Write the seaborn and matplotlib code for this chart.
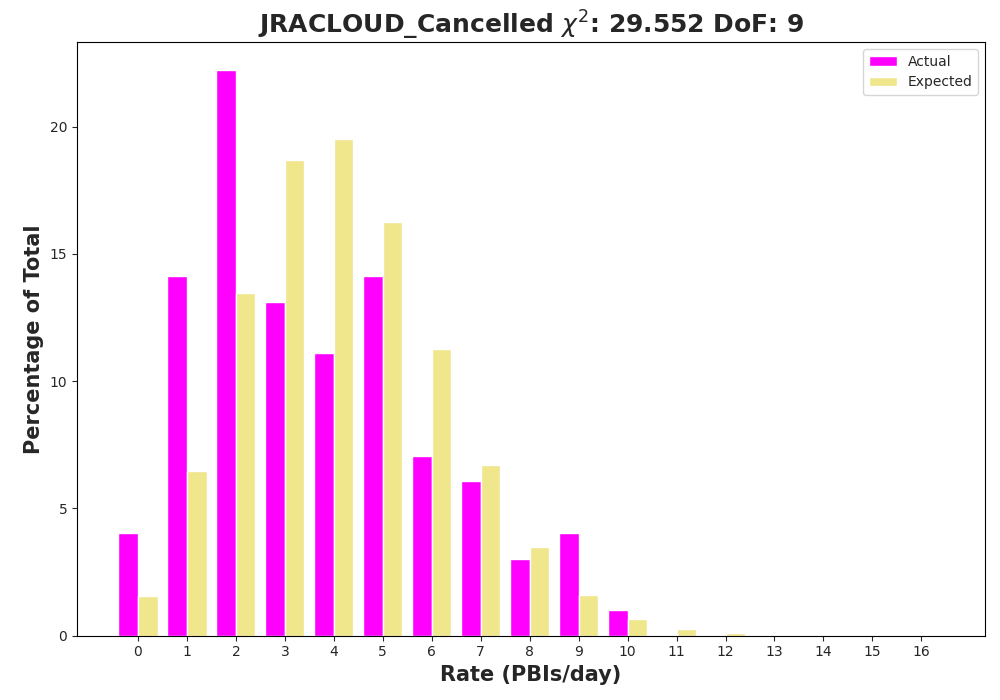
import matplotlib
matplotlib.use("Agg")
import matplotlib.pyplot as plt
import seaborn as sns
import pandas as pd

rates = list(range(17))
actual = [4.04, 14.14, 22.22, 13.13, 11.11, 14.14, 7.07, 6.06, 3.03, 4.04, 1.01,
          0, 0, 0, 0, 0, 0]
expected = [1.55, 6.45, 13.45, 18.7, 19.5, 16.25, 11.25, 6.7, 3.5, 1.6, 0.65,
            0.25, 0.09, 0.03, 0.01, 0.0, 0.0]

df = pd.DataFrame({
    "rate": rates * 2,
    "pct": actual + expected,
    "kind": ["Actual"] * len(rates) + ["Expected"] * len(rates),
})

sns.set_style("white")
plt.rcParams["font.family"] = ["DejaVu Sans"]
fig, ax = plt.subplots(figsize=(10, 7), dpi=100)
sns.barplot(data=df, x="rate", y="pct", hue="kind", ax=ax,
            palette={"Actual": "magenta", "Expected": "khaki"},
            saturation=1, width=0.8, gap=0)
ax.set_xlim(-1.245, 17.3)
ax.set_ylim(0, 23.33)
ax.set_xlabel("Rate (PBIs/day)", fontsize=15, fontweight="bold")
ax.set_ylabel("Percentage of Total", fontsize=15, fontweight="bold")
ax.set_title(r"JRACLOUD_Cancelled $\chi^2$: 29.552 DoF: 9", fontsize=18, fontweight="bold")
ax.legend(title=None, loc="upper right")
ax.tick_params(left=True, bottom=True)
for s in ax.spines.values():
    s.set_color("black")
fig.subplots_adjust(left=0.077, right=0.985, top=0.94, bottom=0.092)
fig.savefig("out.png")
